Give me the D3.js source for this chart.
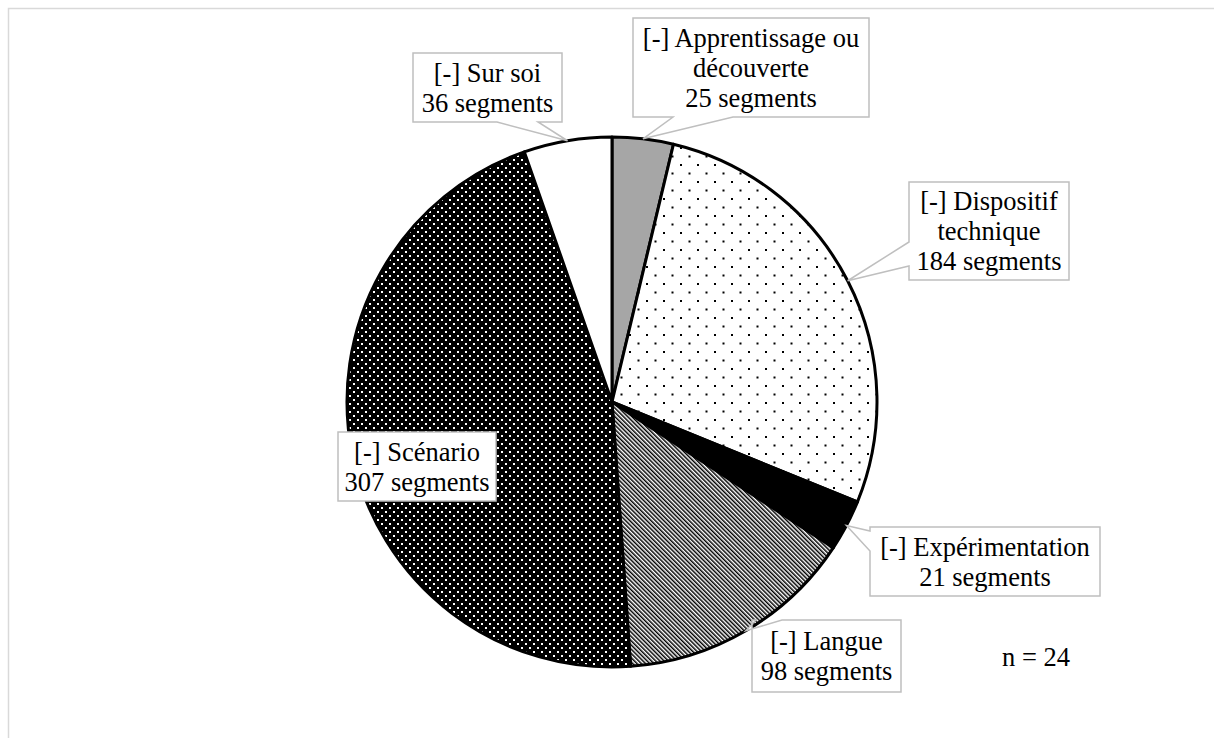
<!DOCTYPE html>
<html><head><meta charset="utf-8">
<script src="https://cdn.jsdelivr.net/npm/d3@7"></script>
<style>html,body{margin:0;padding:0;background:#fff;}svg{display:block;}</style>
</head><body>
<script>
// ---- data ----
const categories = ["Apprentissage ou découverte","Dispositif technique","Expérimentation","Langue","Scénario","Sur soi"];
const labelLines = [["[-] Apprentissage ou","découverte"],["[-] Dispositif","technique"],["[-] Expérimentation"],["[-] Langue"],["[-] Scénario"],["[-] Sur soi"]];
const values = [25,184,21,98,307,36];
const note = "n = 24";

// ---- layout / style (not data) ----
const W=1214,H=738, cx=612, cy=402, R=265;
const fills = ["#a6a6a6","url(#dotsSparse)","#000","url(#stripes)","url(#dotsDense)","#fff"];
const boxes = [
  {x:633,y:18,w:236,h:99,side:"bottom",b:[40,100]},
  {x:909,y:182,w:160,h:98,side:"left",b:[60,84]},
  {x:870,y:527,w:230,h:69,side:"left",b:[4,24]},
  {x:752,y:620,w:149,h:72,side:"top",b:[4,30]},
  {x:338,y:432,w:158,h:69,side:null,b:[0,0]},
  {x:413,y:53,w:149,h:69,side:"bottom",b:[84,125]}
];
const FONT="'Liberation Serif','Times New Roman',serif", FS=26.5;

const svg=d3.select("body").append("svg").attr("width",W).attr("height",H);
const defs=svg.append("defs");
const p1=defs.append("pattern").attr("id","dotsSparse").attr("patternUnits","userSpaceOnUse").attr("width",17).attr("height",17);
p1.append("rect").attr("width",17).attr("height",17).attr("fill","#fff");
p1.append("rect").attr("x",0).attr("y",0).attr("width",2).attr("height",2).attr("fill","#000");
p1.append("rect").attr("x",8.5).attr("y",8.5).attr("width",2).attr("height",2).attr("fill","#000");
const p2=defs.append("pattern").attr("id","dotsDense").attr("patternUnits","userSpaceOnUse").attr("width",8).attr("height",8);
p2.append("rect").attr("width",8).attr("height",8).attr("fill","#000");
p2.append("rect").attr("x",1).attr("y",1).attr("width",2).attr("height",2).attr("fill","#fff");
p2.append("rect").attr("x",5).attr("y",5).attr("width",2).attr("height",2).attr("fill","#fff");
const p3=defs.append("pattern").attr("id","stripes").attr("patternUnits","userSpaceOnUse").attr("width",3).attr("height",3).attr("patternTransform","rotate(-45)");
p3.append("rect").attr("width",3).attr("height",3).attr("fill","#fff");
p3.append("rect").attr("width",1.5).attr("height",3).attr("fill","#000");

// frame
svg.append("rect").attr("x",8.5).attr("y",8.5).attr("width",1400).attr("height",900).attr("fill","none").attr("stroke","#d9d9d9").attr("stroke-width",1.5);

const pie=d3.pie().sort(null).value(d=>d);
const arcs=pie(values);
const arc=d3.arc().innerRadius(0).outerRadius(R);
const g=svg.append("g").attr("transform",`translate(${cx},${cy})`);
g.selectAll("path").data(arcs).join("path").attr("d",arc)
  .attr("fill",(d,i)=>fills[i]).attr("stroke","#000").attr("stroke-width",3).attr("stroke-linejoin","round");

function calloutPath(b,tip){
  const {x,y,w,h,side}=b; const [o1,o2]=b.b; const t=`${tip[0]},${tip[1]}`;
  let p=`M${x},${y}`;
  if(side==="top") p+=` L${x+o1},${y} L${t} L${x+o2},${y}`;
  p+=` L${x+w},${y}`;
  if(side==="right") p+=` L${x+w},${y+o1} L${t} L${x+w},${y+o2}`;
  p+=` L${x+w},${y+h}`;
  if(side==="bottom") p+=` L${x+o2},${y+h} L${t} L${x+o1},${y+h}`;
  p+=` L${x},${y+h}`;
  if(side==="left") p+=` L${x},${y+o2} L${t} L${x},${y+o1}`;
  return p+" Z";
}
const lg=svg.append("g");
arcs.forEach((a,i)=>{
  const m=(a.startAngle+a.endAngle)/2;
  const tip=[cx+R*Math.sin(m), cy-R*Math.cos(m)];
  const b=boxes[i];
  lg.append("path").attr("d",calloutPath(b,tip)).attr("fill","#fff").attr("stroke","#bfbfbf").attr("stroke-width",1.5).attr("stroke-linejoin","miter");
  const lines=[...labelLines[i], `${values[i]} segments`];
  const lh=30, top=b.y+b.h/2-(lines.length-1)*lh/2;
  lines.forEach((s,k)=>{
    lg.append("text").attr("x",b.x+b.w/2).attr("y",top+k*lh).attr("dy","0.35em")
      .attr("text-anchor","middle").attr("font-family",FONT)
      .attr("font-size",FS).attr("fill","#000").text(s);
  });
});
svg.append("text").attr("x",1002).attr("y",657).attr("dy","0.35em").attr("font-family",FONT).attr("font-size",FS).attr("fill","#000").text(note);
</script>
</body></html>
